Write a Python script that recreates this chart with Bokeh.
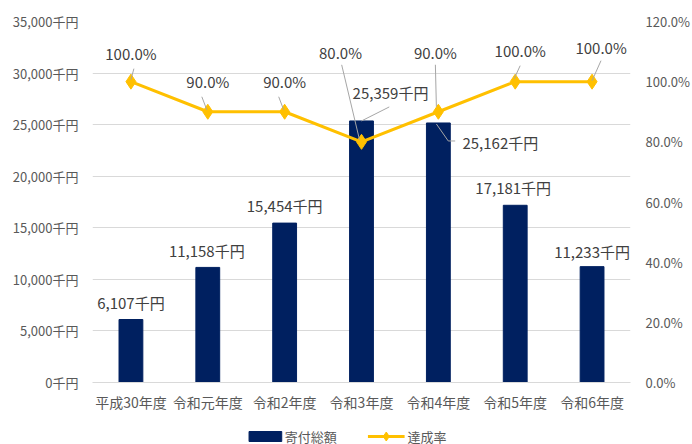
from bokeh.plotting import figure
from bokeh.layouts import column
from bokeh.models import Range1d, LinearAxis, FixedTicker, ColumnDataSource
from bokeh.core.properties import value
from bokeh.embed import file_html
from bokeh.resources import INLINE

# ---- data ----
categories = ["平成30年度", "令和元年度", "令和2年度", "令和3年度", "令和4年度", "令和5年度", "令和6年度"]
donations = [6107, 11158, 15454, 25359, 25162, 17181, 11233]   # 千円
achievement = [100.0, 90.0, 90.0, 80.0, 90.0, 100.0, 100.0]    # %
series_names = ["寄付総額", "達成率"]
left_ticks = [0, 5000, 10000, 15000, 20000, 25000, 30000, 35000]
right_ticks = [0, 20, 40, 60, 80, 100, 120]

# ---- layout / style ----
FONT = "Noto Sans CJK JP"
W, H, LH = 692, 420, 24
BL, BR, BT, BB = 92, 57, 21, 38
FW, FH = W - BL - BR, H - BT - BB
YMAX, PMAX = 35000, 120
BAR = "#002060"
LINE = "#FFC000"
GRAY = "#595959"
LABEL = "#404040"
LEAD = "#A6A6A6"

n = len(categories)
xs = list(range(n))
px_x = FW / n
u_left = YMAX / FH
u_pct = PMAX / FH

# label offsets in screen px (dx right, dy down)
pct_off = [(0, -28), (0, -30), (0, -30), (-21, -89), (-3, -59), (5, -31), (9, -34)]
pct_lead = [((3, -13), (0, -2)), ((-6, -15), (-1, -2)), ((-6, -15), (-1, -2)),
            ((-20, -77), (-2, -2)), ((-3, -47), (-2, -5)), ((5, -16), (-1, -3)),
            ((9, -21), (0, -1))]
val_off = [(0, -17), (-1, -17), (0, -18), (29, -28), (62, 20), (-2, -18), (0, -15)]
val_lead = {3: [(28, -14), (0, 0)], 4: [(-2, 1), (10, 18), (17, 18)]}

p = figure(width=W, height=H, output_backend="svg", toolbar_location=None,
           x_range=Range1d(-0.5, n - 0.5), y_range=Range1d(0, YMAX),
           min_border_left=BL, min_border_right=BR, min_border_top=BT, min_border_bottom=BB)
p.extra_y_ranges = {"pct": Range1d(0, PMAX)}
p.outline_line_color = None
p.background_fill_color = "white"
p.border_fill_color = "white"

bars = p.vbar(x=xs, top=donations, width=0.31, color=BAR)
line = p.line(xs, achievement, y_range_name="pct", line_color=LINE, line_width=3)
pts = p.scatter(xs, achievement, y_range_name="pct", marker="diamond", size=15,
                fill_color=LINE, line_color=LINE)

# leader lines
for i in range(n):
    (sx0, sy0), (sx1, sy1) = pct_lead[i]
    p.line([xs[i] + sx0 / px_x, xs[i] + sx1 / px_x],
           [achievement[i] - sy0 * u_pct, achievement[i] - sy1 * u_pct],
           y_range_name="pct", line_color=LEAD, line_width=1)
for i, pts_l in val_lead.items():
    p.line([xs[i] + sx / px_x for sx, sy in pts_l],
           [donations[i] - sy * u_left for sx, sy in pts_l],
           line_color=LEAD, line_width=1)

pct_src = ColumnDataSource(dict(
    x=xs, y=achievement, t=[f"{v:.1f}%" for v in achievement],
    dx=[o[0] for o in pct_off], dy=[o[1] for o in pct_off]))
p.text("x", "y", text="t", x_offset="dx", y_offset="dy", source=pct_src, y_range_name="pct",
       text_align="center", text_baseline="middle", text_font=value(FONT),
       text_font_size="15px", text_color=LABEL)

val_src = ColumnDataSource(dict(
    x=xs, y=donations, t=[f"{v:,}千円" for v in donations],
    dx=[o[0] for o in val_off], dy=[o[1] for o in val_off]))
p.text("x", "y", text="t", x_offset="dx", y_offset="dy", source=val_src,
       text_align="center", text_baseline="middle", text_font=value(FONT),
       text_font_size="15px", text_color=LABEL)

# axes
p.yaxis.ticker = FixedTicker(ticks=left_ticks)
p.yaxis.major_label_overrides = {t: f"{t:,}千円" for t in left_ticks}
p.xaxis.ticker = FixedTicker(ticks=xs)
p.xaxis.major_label_overrides = {i: c for i, c in enumerate(categories)}

ra = LinearAxis(y_range_name="pct", ticker=FixedTicker(ticks=right_ticks))
ra.major_label_overrides = {t: f"{t:.1f}%" for t in right_ticks}
p.add_layout(ra, "right")

for ax in [p.yaxis[0], ra, p.xaxis[0]]:
    ax.major_tick_line_color = None
    ax.minor_tick_line_color = None
    ax.major_tick_out = 0
    ax.major_tick_in = 0
    ax.major_label_text_font = FONT
    ax.major_label_text_font_size = "13px"
    ax.major_label_text_color = GRAY
p.xaxis[0].major_label_text_font_size = "14px"
p.yaxis[0].axis_line_color = None
ra.axis_line_color = None
p.yaxis[0].major_label_standoff = 14
ra.major_label_standoff = 15
p.xaxis[0].axis_line_color = "#D9D9D9"
p.xaxis[0].major_label_standoff = 9

p.xgrid.grid_line_color = None
p.ygrid.grid_line_color = "#D9D9D9"
p.ygrid.ticker = FixedTicker(ticks=left_ticks)

# legend strip below the chart; its frame is aligned with the chart frame,
# so its x range is expressed in page pixels over the same span
lg = figure(width=W, height=LH, output_backend="svg", toolbar_location=None,
            x_range=Range1d(BL, W - BR), y_range=Range1d(0, LH),
            x_axis_location=None, y_axis_location=None,
            min_border_left=BL, min_border_right=BR, min_border_top=0, min_border_bottom=0)
lg.grid.visible = False
lg.outline_line_color = None
LX0, LCY = 250, 8          # legend start x (page px), centre line y (px from strip bottom)
ICON, GAP, ITEM_GAP = 33, 3, 35
lg.quad(left=[LX0], right=[LX0 + ICON], bottom=[LCY - 5], top=[LCY + 5], color=BAR)
lg.text([LX0 + ICON + GAP], [LCY], text=[series_names[0]], text_align="left",
        text_baseline="middle", text_font=value(FONT), text_font_size="13px", text_color=GRAY)
LX1 = LX0 + ICON + GAP + 49 + ITEM_GAP
lg.line([LX1, LX1 + 37], [LCY, LCY], line_color=LINE, line_width=3)
lg.scatter([LX1 + 18.5], [LCY], marker="diamond", size=9, fill_color=LINE, line_color=LINE)
lg.text([LX1 + 37 + GAP], [LCY], text=[series_names[1]], text_align="left",
        text_baseline="middle", text_font=value(FONT), text_font_size="13px", text_color=GRAY)

layout = column(p, lg, spacing=0)
open("out.html", "w").write(file_html(layout, INLINE))
